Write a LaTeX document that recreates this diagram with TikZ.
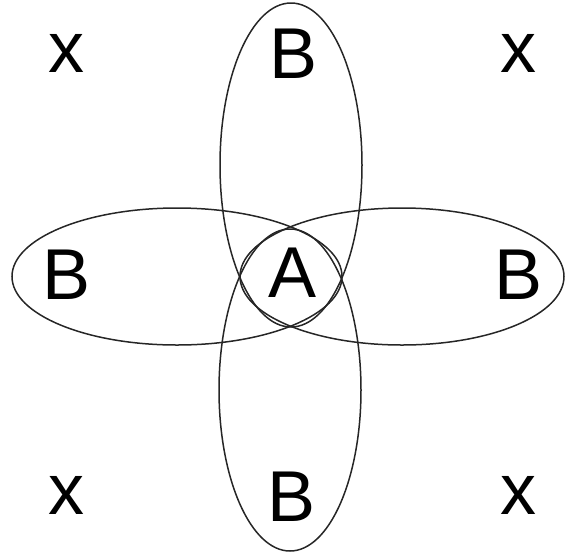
\documentclass[tikz,border=0pt]{standalone}
\usepackage{fontspec}
\setmainfont{Liberation Sans}
\begin{document}
\begin{tikzpicture}[x=1pt,y=-1pt,
  petal/.style={draw=black!85,line width=1.5pt},
  lbl/.style={inner sep=0pt,font=\fontsize{72}{80}\selectfont}]
\useasboundingbox (0,0) rectangle (565,558);
% four ellipses
\draw[petal] (291,165) ellipse [x radius=71, y radius=162];
\draw[petal] (290,390) ellipse [x radius=71, y radius=161];
\draw[petal] (177,276.5) ellipse [x radius=165, y radius=68.5];
\draw[petal] (402,276.5) ellipse [x radius=162, y radius=68.5];
% labels
\node[lbl] (bt) at (294,54) {B};
\node[lbl] (bb) at (292,497) {B};
\node[lbl] (bl) at (67,275) {B};
\node[lbl] (br) at (519,275) {B};
\node[lbl] (a) at (293,273) {A};
\node[lbl] (x1) at (66,53) {x};
\node[lbl] (x2) at (518,53) {x};
\node[lbl] (x3) at (66,495) {x};
\node[lbl] (x4) at (518,495) {x};
\end{tikzpicture}
\end{document}
